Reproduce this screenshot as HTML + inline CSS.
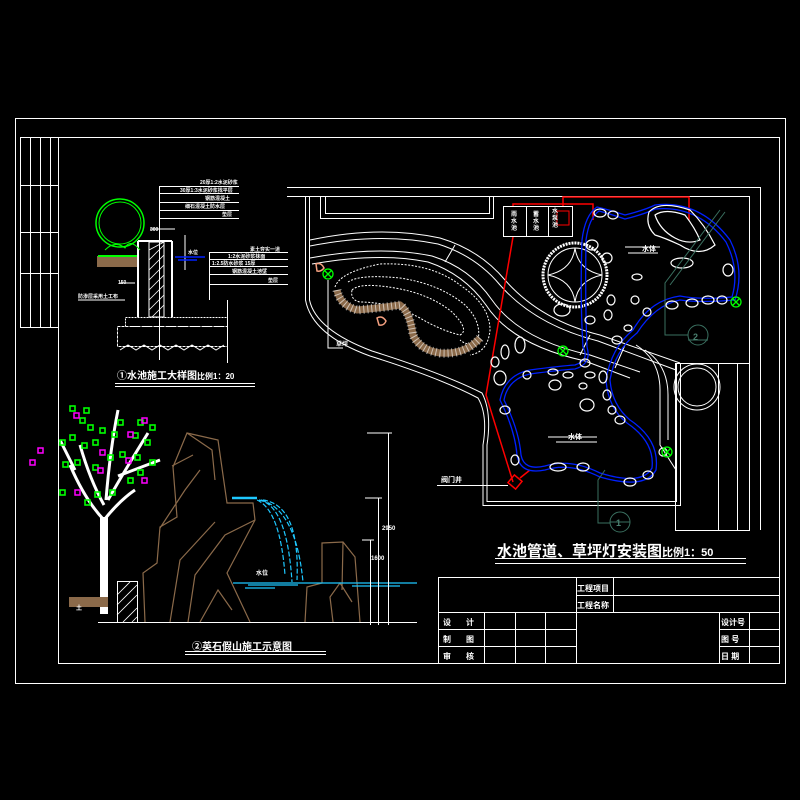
<!DOCTYPE html>
<html><head><meta charset="utf-8"><style>
html,body{margin:0;padding:0;background:#000;width:800px;height:800px;overflow:hidden}
svg{display:block}
text{font-family:"Liberation Sans","Noto Sans CJK SC",sans-serif;fill:#fff;font-weight:bold}
</style></head><body>
<svg width="800" height="800" viewBox="0 0 800 800" xmlns="http://www.w3.org/2000/svg">
<rect width="800" height="800" fill="#000"/>
<g fill="none" stroke="#fff" stroke-width="1">
<rect x="15.5" y="118.5" width="770" height="565"/>
<rect x="58.5" y="137.5" width="721" height="526"/>
<rect x="20.5" y="137.5" width="38" height="190"/>
<path d="M30.5 137V327M40.5 137V327M50.5 137V327M20 185.5H58M20 232.5H58M20 273.5H58"/>
<rect x="438.5" y="577.5" width="341" height="86"/>
<path d="M438 612.5H780M576 595.5H780M438 629.5H576M438 646.5H576M719 629.5H780M719 646.5H780"/>
<path d="M576.5 577V663M613.5 577V612M484.5 612V663M515.5 612V663M545.5 612V663M719.5 612V663M749.5 612V663"/>
</g>
<g font-size="8">
<text x="577" y="591">工程项目</text><text x="577" y="608">工程名称</text>
<text x="443" y="625">设</text><text x="466" y="625">计</text>
<text x="443" y="642">制</text><text x="466" y="642">图</text>
<text x="443" y="659">审</text><text x="466" y="659">核</text>
<text x="721" y="625">设计号</text><text x="721" y="642">图 号</text><text x="721" y="659">日 期</text>
</g>
<text x="497" y="556" font-size="15" font-weight="normal">水池管道、草坪灯安装图<tspan font-size="11" font-weight="bold">比例1：50</tspan></text>
<path d="M495 558.5H746M495 563.5H746" stroke="#fff"/>

<g fill="none" stroke="#fff" stroke-width="1">
<path d="M287 187.5H760.5V530M287 196.5H749.5V363"/>
<rect x="320.5" y="196.5" width="173" height="22"/>
<rect x="325.5" y="196.5" width="164" height="17"/>
<path d="M305.5 197V300Q312 335 370 356Q440 378 478 398Q488 415 483 445V505.5H680.5V363.5H749"/>
<path d="M309.5 197V300Q316 330 372 351Q442 373 482 393Q492 412 487 445V501.5H676.5V363"/>
<rect x="675.5" y="363.5" width="74" height="167"/>
<path d="M718.5 363V530M737.5 363V530"/>
<circle cx="697" cy="387" r="23"/><circle cx="697" cy="387" r="19"/>
<path d="M310 240Q380 225 440 238Q480 250 505 280Q540 320 600 335L680 363"/>
<path d="M310 246Q380 232 438 244Q476 256 500 285Q535 325 598 341L676 370"/>
<path d="M310 258Q380 245 432 256Q470 268 492 300Q520 340 590 355L640 372"/>
<path d="M312 264Q380 252 428 262Q464 274 486 305Q512 345 585 361L630 378"/>
<path d="M590 335L580 355M625 345L615 368M455 245L445 262"/>
<path d="M636 345Q660 360 660 390V445L676 470M645 350Q668 365 668 395V440"/>
<g stroke-dasharray="2 1.5">
<path d="M335 287Q340 272 380 264Q430 262 460 285Q490 305 490 330Q488 352 470 355"/>
<path d="M348 282Q360 274 400 278Q440 284 465 305Q482 322 478 340Q470 348 460 340"/>
<path d="M352 290Q360 282 395 288Q430 294 452 312Q470 330 460 335Q440 330 420 318Q390 302 360 302Q350 300 352 290Z"/>
</g>
</g>
<path d="M337 290Q340 305 357 310Q380 308 400 305Q410 312 413 335Q420 350 440 353Q465 355 480 338" fill="none" stroke="#8b6a4a" stroke-width="7"/>
<path d="M337 290Q340 305 357 310Q380 308 400 305Q410 312 413 335Q420 350 440 353Q465 355 480 338" fill="none" stroke="#fff" stroke-width="9" stroke-dasharray="1 3" opacity="0.6"/>
<path d="M377 318q5-3 9 3q-2 5-7 4z M316 264q5-2 8 4q-3 4-7 3z" fill="none" stroke="#f4a080" stroke-width="1.5"/>
<path d="M328 280V348H343" fill="none" stroke="#fff"/>
<text x="336" y="346" font-size="6">草坪</text>

<g fill="none" stroke="#f00" stroke-width="1.5">
<path d="M513 237L486 395L513 482"/>
<path d="M513 207V204H593V220M563 207V197H689V220"/>
<rect x="557" y="211" width="12" height="14" stroke-width="1"/>
<rect x="510" y="477" width="10" height="10" transform="rotate(40 515 482)"/>
<path d="M520 478L530 470"/>
</g>
<rect x="503.5" y="206.5" width="69" height="30" fill="none" stroke="#fff"/>
<path d="M526.5 207V236M548.5 207V236" stroke="#fff"/>
<g font-size="6"><text x="511" y="216">雨</text><text x="511" y="223">水</text><text x="511" y="230">池</text>
<text x="533" y="216">蓄</text><text x="533" y="223">水</text><text x="533" y="230">池</text>
<text x="552" y="213">水</text><text x="552" y="220">泵</text><text x="552" y="227">池</text></g>

<g fill="none" stroke="#fff">
<circle cx="575" cy="275" r="32" stroke-width="3" stroke-dasharray="2 1"/>
<circle cx="575" cy="275" r="27"/>
<path d="M575 248Q572 270 548 275Q572 280 575 302Q578 280 602 275Q578 270 575 248Z"/>
</g>
<g fill="none" stroke="#0020ff" stroke-width="1.3">
<path d="M583 347Q580 300 582 240Q585 215 597 207Q610 210 625 215Q645 210 655 205Q700 200 730 240Q745 270 735 300Q700 303 680 300Q655 305 637 333Q615 350 610 380Q612 405 630 420Q660 440 656 470Q645 490 600 477Q570 462 545 470Q520 475 517 455Q515 430 500 400Q505 375 530 370Q560 366 575 365Q590 360 583 347"/>
<path d="M587 347Q585 300 586 240Q589 218 599 211Q610 214 625 219Q645 214 655 209Q698 205 726 242Q740 270 732 297Q700 300 680 296Q650 300 633 330Q611 348 606 380Q608 408 627 423Q655 442 652 468Q642 486 600 473Q570 458 545 466Q524 471 521 455Q519 430 504 400Q508 379 530 374Q560 370 575 369Q592 364 587 347"/>
</g>
<g fill="none" stroke="#fff" stroke-width="1.2">
<path d="M649 212Q660 200 690 210Q705 225 715 245Q700 258 680 245Q665 238 655 235Q645 225 649 212Z"/>
<path d="M655 215Q665 208 685 215Q695 228 700 240Q688 245 675 238Q660 230 655 215Z"/>
<ellipse cx="682" cy="263" rx="11" ry="5"/><ellipse cx="600" cy="213" rx="6" ry="4"/><ellipse cx="613" cy="215" rx="5" ry="4"/>
<ellipse cx="592" cy="245" rx="6" ry="5"/><ellipse cx="607" cy="258" rx="5" ry="5"/><ellipse cx="637" cy="277" rx="5" ry="3"/>
<ellipse cx="611" cy="300" rx="4" ry="5"/><ellipse cx="608" cy="315" rx="4" ry="5"/><ellipse cx="590" cy="320" rx="5" ry="4"/>
<ellipse cx="562" cy="310" rx="8" ry="6"/><ellipse cx="635" cy="300" rx="4" ry="4"/><ellipse cx="647" cy="312" rx="4" ry="4"/>
<ellipse cx="672" cy="305" rx="6" ry="4"/><ellipse cx="692" cy="303" rx="6" ry="4"/><ellipse cx="708" cy="300" rx="6" ry="4"/><ellipse cx="722" cy="300" rx="5" ry="4"/>
<ellipse cx="728" cy="270" rx="5" ry="6"/><ellipse cx="628" cy="328" rx="4" ry="3"/><ellipse cx="617" cy="340" rx="5" ry="4"/>
<ellipse cx="520" cy="345" rx="5" ry="8"/><ellipse cx="505" cy="352" rx="4" ry="7"/><ellipse cx="500" cy="378" rx="6" ry="7"/>
<ellipse cx="495" cy="362" rx="4" ry="5"/><ellipse cx="553" cy="372" rx="5" ry="3"/><ellipse cx="568" cy="375" rx="5" ry="3"/>
<ellipse cx="585" cy="363" rx="5" ry="4"/><ellipse cx="590" cy="375" rx="5" ry="3"/><ellipse cx="583" cy="386" rx="4" ry="3"/>
<ellipse cx="555" cy="385" rx="6" ry="5"/><ellipse cx="587" cy="405" rx="7" ry="6"/><ellipse cx="603" cy="377" rx="4" ry="6"/>
<ellipse cx="607" cy="395" rx="4" ry="5"/><ellipse cx="612" cy="410" rx="4" ry="4"/><ellipse cx="620" cy="420" rx="5" ry="4"/>
<ellipse cx="505" cy="410" rx="5" ry="4"/><ellipse cx="515" cy="460" rx="4" ry="5"/><ellipse cx="558" cy="467" rx="8" ry="4"/>
<ellipse cx="583" cy="467" rx="6" ry="4"/><ellipse cx="630" cy="482" rx="6" ry="4"/><ellipse cx="648" cy="475" rx="5" ry="4"/>
<ellipse cx="663" cy="452" rx="4" ry="4"/><ellipse cx="527" cy="375" rx="4" ry="4"/>
</g>
<g fill="none" stroke="#0f0" stroke-width="1.3">
<circle cx="328" cy="274" r="5"/><path d="M324.5 270.5l7 7M331.5 270.5l-7 7"/>
<circle cx="563" cy="351" r="5"/><path d="M559.5 347.5l7 7M566.5 347.5l-7 7"/>
<circle cx="736" cy="302" r="5"/><path d="M732.5 298.5l7 7M739.5 298.5l-7 7"/>
<circle cx="667" cy="452" r="5"/><path d="M663.5 448.5l7 7M670.5 448.5l-7 7"/>
</g>
<g fill="none" stroke="#3a7060">
<path d="M720 210L665 283V335H688M725 212L670 285"/>
<circle cx="698" cy="335" r="10"/><path d="M688 340H708"/>
<path d="M605 470L598 480V523H610"/>
<circle cx="620" cy="522" r="10"/><path d="M610 522H630"/>
</g>
<text x="693" y="340" font-size="9" style="fill:#4a8070">2</text>
<text x="616" y="526" font-size="9" style="fill:#4a8070">1</text>
<g font-size="7"><text x="642" y="251">水体</text><text x="568" y="439">水体</text><text x="441" y="482">阀门井</text></g>
<path d="M625 247H660M628 253H658M548 437H597M556 442H597M437 485.5H508" stroke="#fff" fill="none"/>

<g fill="none" stroke="#fff">
<path d="M138 241V317M172 241V317M138 241H172" stroke-width="2"/>
<rect x="149" y="242" width="15" height="75"/>
<path d="M149 250l15-8M149 260l15-15M149 270l15-15M149 280l15-15M149 290l15-15M149 300l15-15M149 310l15-15M152 317l12-12" stroke-width="0.8"/>
<rect x="125.5" y="317.5" width="102" height="9" stroke-dasharray="2 1"/>
<rect x="117.5" y="326.5" width="110" height="20" stroke-dasharray="3 1"/>
<path d="M120 350l8-5 8 5 8-5 8 5 8-5 8 5 8-5 8 5 8-5 8 5 8-5 8 5 8-5"/>
<path d="M159.5 186V360M209.5 252V300M227.5 300V363"/>
<path d="M159 186.5H239M159 193.5H239M159 202.5H239M159 210.5H239M159 218.5H239"/>
<path d="M209 252.5H288M209 259.5H288M209 266.5H288M209 274.5H288M209 284.5H288"/>
<path d="M150 229H175M185 235V270M78 300H125M120 283H135"/>
</g>
<g font-size="5"><text x="200" y="184">20厚1:2水泥砂浆</text><text x="180" y="192">30厚1:3水泥砂浆找平层</text><text x="205" y="200">钢筋混凝土</text><text x="185" y="208">细石混凝土防水层</text><text x="222" y="216">垫层</text>
<text x="250" y="251">素土夯实一道</text><text x="228" y="258">1:2水泥砂浆抹面</text><text x="212" y="265">1:2.5防水砂浆 15厚</text><text x="232" y="273">钢筋混凝土池壁</text><text x="268" y="282">垫层</text>
<text x="150" y="231">300</text><text x="118" y="284">150</text><text x="78" y="298">防渗层采用土工布</text><text x="188" y="254">水位</text></g>
<path d="M175 257H205M178 260H197" stroke="#0020ff" stroke-width="1.5"/>
<circle cx="120" cy="223" r="24" fill="none" stroke="#0f0" stroke-width="1.5"/>
<circle cx="120" cy="223" r="21" fill="none" stroke="#0f0"/>
<path d="M105 250Q115 240 125 248Q130 238 140 250" fill="none" stroke="#0f0"/>
<rect x="97" y="256" width="40" height="11" fill="#8b6a4a"/>
<path d="M98 256H137" stroke="#0f0" stroke-width="2"/>
<text x="117" y="379" font-size="10">①水池施工大样图<tspan font-size="8">比例1：20</tspan></text>
<path d="M115 383.5H255M115 386.5H255" stroke="#fff"/>

<path d="M98 622.5H417" stroke="#fff"/>
<path d="M100 517H108V614H100Z" fill="#fff"/>
<g stroke="#fff" stroke-width="3" fill="none">
<path d="M104 520Q85 500 70 465M104 520Q120 500 135 490M106 500Q110 450 118 410M104 505Q90 480 80 445M108 500Q125 470 148 433M118 476L160 460M75 470L60 440"/>
</g>
<g stroke="#0f0" fill="none" stroke-width="1.6">
<rect x="70" y="406" width="5" height="5"/><rect x="84" y="408" width="5" height="5"/><rect x="80" y="418" width="5" height="5"/><rect x="88" y="425" width="5" height="5"/>
<rect x="60" y="440" width="5" height="5"/><rect x="70" y="435" width="5" height="5"/><rect x="82" y="443" width="5" height="5"/><rect x="93" y="440" width="5" height="5"/>
<rect x="100" y="428" width="5" height="5"/><rect x="112" y="432" width="5" height="5"/><rect x="118" y="420" width="5" height="5"/><rect x="133" y="433" width="5" height="5"/>
<rect x="138" y="420" width="5" height="5"/><rect x="150" y="425" width="5" height="5"/><rect x="145" y="440" width="5" height="5"/><rect x="108" y="455" width="5" height="5"/>
<rect x="93" y="465" width="5" height="5"/><rect x="120" y="452" width="5" height="5"/><rect x="135" y="455" width="5" height="5"/><rect x="150" y="460" width="5" height="5"/>
<rect x="63" y="462" width="5" height="5"/><rect x="75" y="460" width="5" height="5"/><rect x="95" y="492" width="5" height="5"/><rect x="138" y="470" width="5" height="5"/>
<rect x="60" y="490" width="5" height="5"/><rect x="85" y="500" width="5" height="5"/><rect x="110" y="490" width="5" height="5"/><rect x="128" y="478" width="5" height="5"/>
</g>
<g stroke="#f0f" fill="none" stroke-width="1.5">
<rect x="38" y="448" width="5" height="5"/><rect x="74" y="413" width="5" height="5"/><rect x="100" y="450" width="5" height="5"/><rect x="128" y="432" width="5" height="5"/>
<rect x="142" y="418" width="5" height="5"/><rect x="126" y="458" width="5" height="5"/><rect x="98" y="468" width="5" height="5"/><rect x="75" y="490" width="5" height="5"/><rect x="142" y="478" width="5" height="5"/><rect x="30" y="460" width="5" height="5"/>
</g>
<rect x="69" y="597" width="39" height="10" fill="#8b6a4a"/>
<rect x="117.5" y="581.5" width="20" height="41" fill="none" stroke="#fff"/>
<path d="M117 595l13-13M117 605l20-20M117 615l20-20M123 622l14-14M132 622l5-5" stroke="#fff" stroke-width="0.8"/>
<g fill="none" stroke="#8b6a4a" stroke-width="1.2">
<path d="M145 622L143 573L157 563L160 527L177 517L173 467L187 433L218 440L227 503L253 503L255 520L227 573L250 622"/>
<path d="M187 433L212 450L215 480M172 466L193 455M160 528L185 490L200 470M188 622L195 575L225 535L255 520M170 622L180 560L215 522M200 622L218 590L232 610"/>
<path d="M305 622L307 587L322 583L322 543L343 542L355 557L360 622M333 622L330 597L340 583L352 602M343 542L342 590"/>
</g>
<g fill="none" stroke="#1ec8ff" stroke-width="1.2">
<path d="M232 498H257" stroke-width="2.5"/>
<path d="M257 500Q280 510 285 575M259 500Q287 505 292 582M261 500Q296 510 303 582M263 500Q300 505 297 580" stroke-dasharray="5 2"/>
<path d="M233 583H417M248 585H298M245 588H275M352 586H400"/>
</g>
<g fill="none" stroke="#fff">
<path d="M388.5 433V625M378.5 498V625M370.5 540V625M367 433H392M365 498H382M362 540H374"/>
</g>
<g font-size="6"><text x="382" y="530">2950</text><text x="371" y="560">1600</text><text x="256" y="575">水位</text><text x="76" y="610">土</text></g>
<text x="192" y="650" font-size="10">②英石假山施工示意图</text>
<path d="M185 651.5H326M185 654.5H326" stroke="#fff"/>
</svg>
</body></html>
